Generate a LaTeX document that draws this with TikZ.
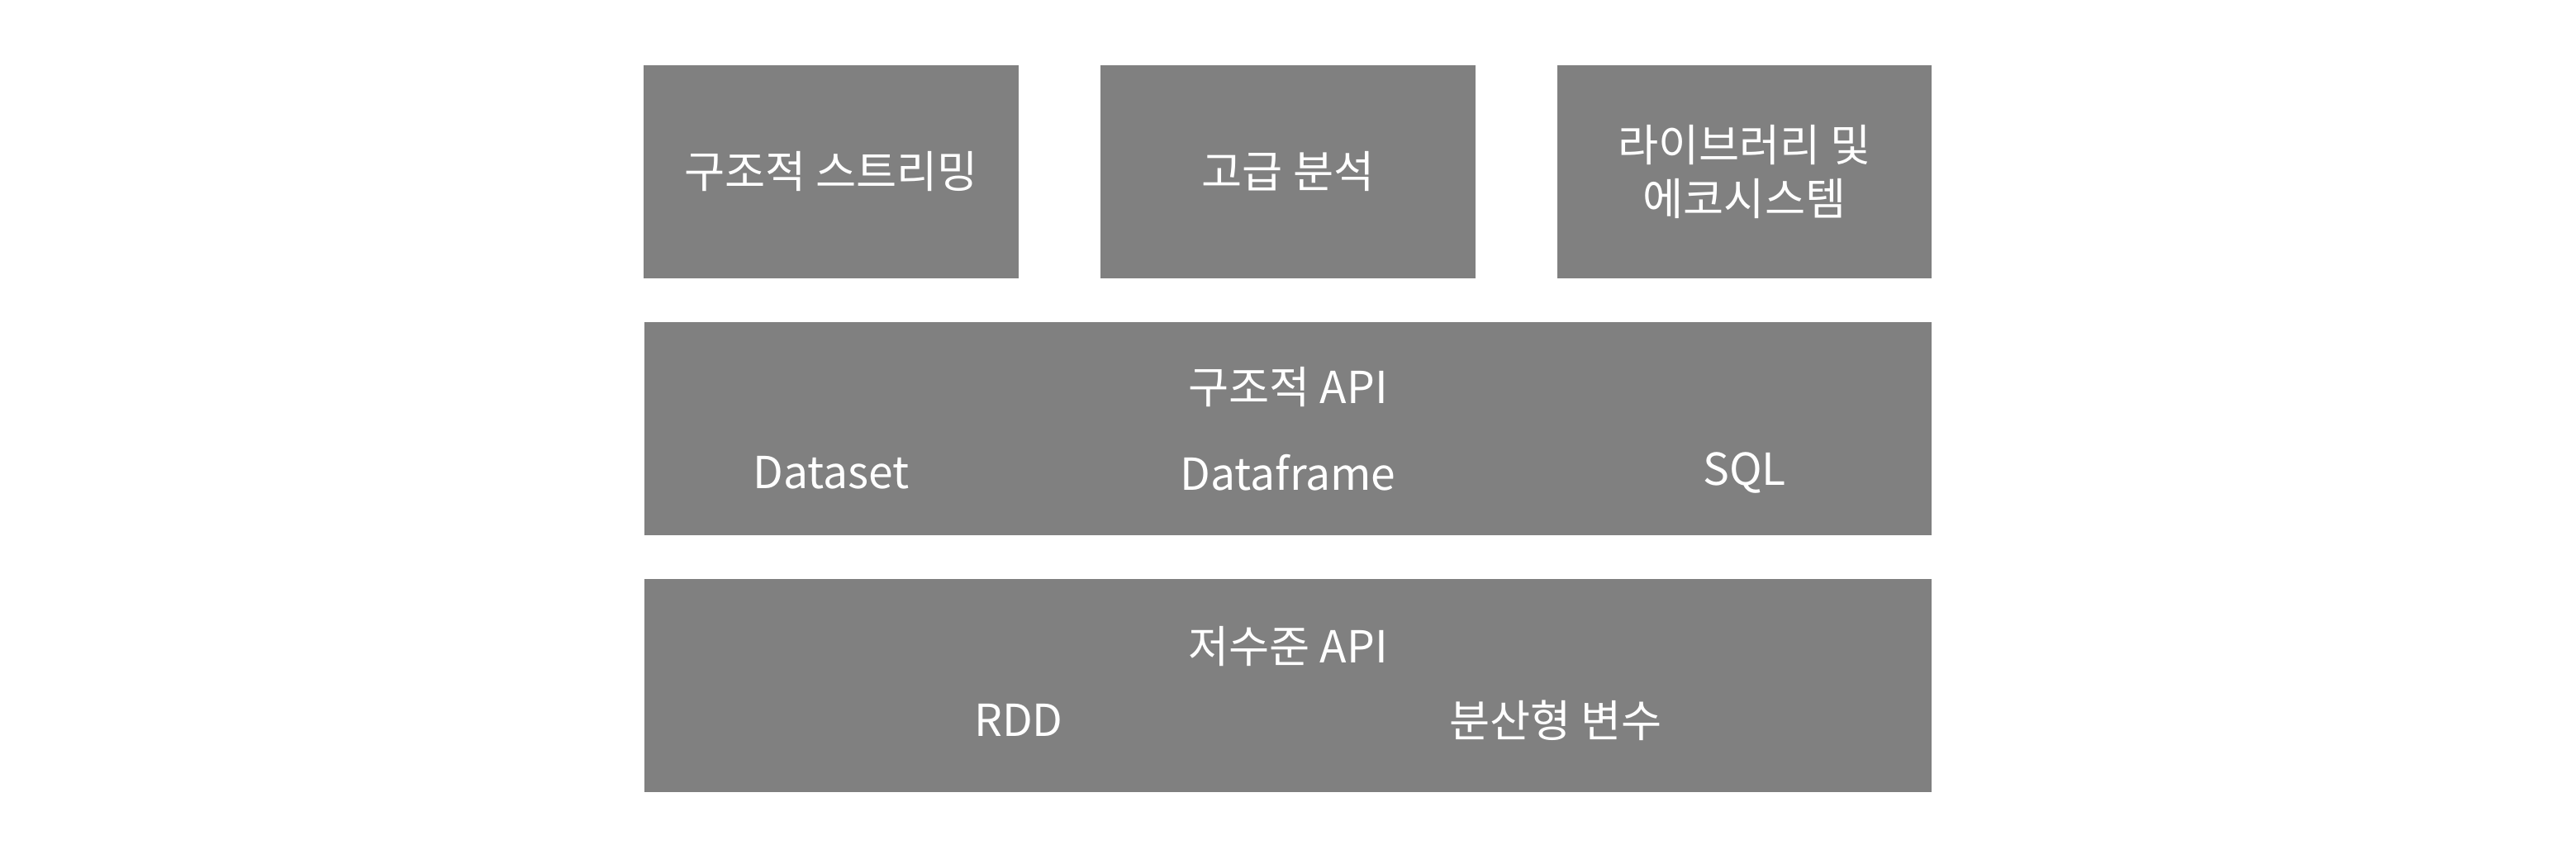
\documentclass[tikz,border=0pt]{standalone}
\usepackage{fontspec}
\setmainfont{Noto Sans CJK KR}
\usepackage{tikz}
\definecolor{layergray}{RGB}{128,128,128}
\tikzset{
	layer/.style={fill=layergray, draw=none, inner sep=0pt, minimum height=2.58cm},
	label/.style={text=white, font=\fontsize{15.2}{18.3}\selectfont, align=center, inner sep=0pt}
}

\begin{document}
\begin{tikzpicture}
		%%%%% START %%%%%
		\useasboundingbox (0, 0) rectangle (31.18, 10.39);
		
		% top row
		\node[layer, minimum width=4.535cm] (streaming) at (10.06, 8.31) {};
		\node[layer, minimum width=4.535cm] (analytics) at (15.59, 8.31) {};
		\node[layer, minimum width=4.535cm] (ecosystem) at (21.115, 8.31) {};
		\node[label] (streamingtxt) at (streaming) {구조적 스트리밍};
		\node[label] (analyticstxt) at (analytics) {고급 분석};
		\node[label] (ecosystemtxt) at (ecosystem) {라이브러리 및\\에코시스템};
		
		% structured api
		\node[layer, minimum width=15.585cm] (structured) at (15.59, 5.20) {};
		\node[label] (structuredtxt) at (15.59, 5.70) {구조적 API};
		\node[label] (dataset) at (10.06, 4.67) {Dataset};
		\node[label] (dataframe) at (15.59, 4.67) {Dataframe};
		\node[label] (sql) at (21.115, 4.67) {SQL};
		
		% low level api
		\node[layer, minimum width=15.585cm] (lowlevel) at (15.59, 2.09) {};
		\node[label] (lowleveltxt) at (15.59, 2.56) {저수준 API};
		\node[label] (rdd) at (12.33, 1.67) {RDD};
		\node[label] (sharedvars) at (18.83, 1.67) {분산형 변수};
		%%%%% END %%%%%
	\end{tikzpicture}
\end{document}
